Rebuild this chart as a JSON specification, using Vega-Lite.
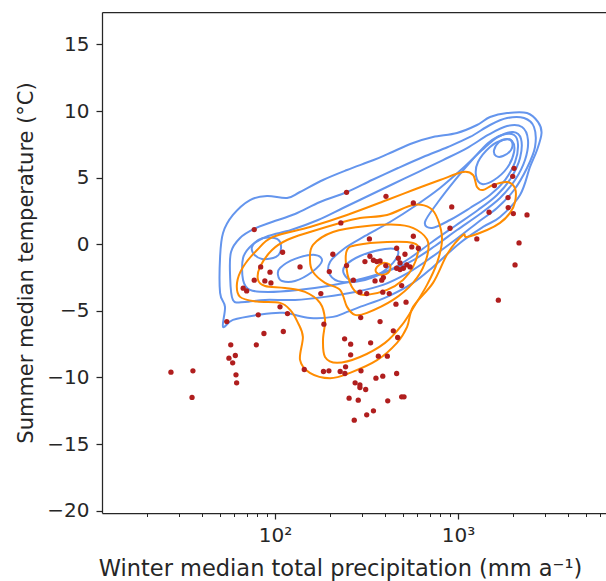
{
  "$schema": "https://vega.github.io/schema/vega-lite/v6.json",
  "width": 504,
  "height": 501,
  "autosize": {"type": "none"},
  "padding": {"left": 102, "top": 12, "right": 0, "bottom": 68},
  "config": {
    "view": {"stroke": null},
    "font": "DejaVu Sans",
    "axis": {
      "domainColor": "#262626", "domainWidth": 1.25, "tickColor": "#262626", "tickWidth": 1.25,
      "labelColor": "#262626", "labelFont": "DejaVu Sans", "labelFontSize": 20,
      "titleColor": "#262626", "titleFont": "DejaVu Sans", "titleFontSize": 21, "titleFontWeight": "normal",
      "grid": false
    }
  },
  "datasets": {
    "points": [
      {"p": 570, "t": 3.1}, {"p": 924, "t": 2.8}, {"p": 1478, "t": 2.4}, {"p": 229, "t": 1.6}, {"p": 904, "t": 1.2},
      {"p": 77, "t": 1.1}, {"p": 328, "t": 0.4}, {"p": 570, "t": 0.6}, {"p": 1267, "t": 0.4}, {"p": 462, "t": -0.3},
      {"p": 559, "t": -0.2}, {"p": 607, "t": -0.3}, {"p": 110, "t": -0.6}, {"p": 207, "t": -0.75}, {"p": 330, "t": -0.9},
      {"p": 513, "t": -0.75}, {"p": 472, "t": -1.05}, {"p": 345, "t": -1.2}, {"p": 375, "t": -1.25}, {"p": 310, "t": -1.3},
      {"p": 482, "t": -1.4}, {"p": 525, "t": -1.55}, {"p": 503, "t": -1.8}, {"p": 462, "t": -1.8}, {"p": 547, "t": -1.7},
      {"p": 482, "t": -1.9}, {"p": 403, "t": -1.6}, {"p": 360, "t": -1.3}, {"p": 246, "t": -1.6}, {"p": 137, "t": -1.7},
      {"p": 83.5, "t": -1.7}, {"p": 198, "t": -2.05}, {"p": 93.9, "t": -2.1}, {"p": 268, "t": -2.7}, {"p": 352, "t": -2.75},
      {"p": 383, "t": -2.7}, {"p": 391, "t": -2.5}, {"p": 77, "t": -2.7}, {"p": 88, "t": -2.75}, {"p": 95, "t": -2.9},
      {"p": 67, "t": -3.3}, {"p": 70, "t": -3.5}, {"p": 492, "t": -3.1}, {"p": 178, "t": -3.7}, {"p": 291, "t": -3.6},
      {"p": 317, "t": -3.7}, {"p": 388, "t": -3.6}, {"p": 421, "t": -3.7}, {"p": 1661, "t": -4.2}, {"p": 106.5, "t": -4.7},
      {"p": 458, "t": -4.5}, {"p": 520, "t": -4.35}, {"p": 117, "t": -5.2}, {"p": 81, "t": -5.3}, {"p": 294, "t": -5.5},
      {"p": 375, "t": -5.8}, {"p": 54.5, "t": -5.8}, {"p": 185, "t": -6.0}, {"p": 443, "t": -6.5}, {"p": 111, "t": -6.55},
      {"p": 87, "t": -6.7}, {"p": 468, "t": -7.0}, {"p": 240, "t": -7.1}, {"p": 259, "t": -7.5}, {"p": 333, "t": -7.4},
      {"p": 57.3, "t": -7.55}, {"p": 79, "t": -7.55}, {"p": 60.7, "t": -8.35}, {"p": 56, "t": -8.55}, {"p": 58.7, "t": -8.9},
      {"p": 259, "t": -8.3}, {"p": 367, "t": -8.4}, {"p": 411, "t": -8.4}, {"p": 243, "t": -9.2}, {"p": 144.5, "t": -9.4},
      {"p": 184, "t": -9.55}, {"p": 197, "t": -9.5}, {"p": 227, "t": -9.55}, {"p": 241, "t": -9.7}, {"p": 295, "t": -9.5},
      {"p": 462, "t": -9.7}, {"p": 61.2, "t": -9.8}, {"p": 61.7, "t": -10.4}, {"p": 356, "t": -10.05}, {"p": 388, "t": -9.9},
      {"p": 274, "t": -10.4}, {"p": 291, "t": -10.55}, {"p": 291, "t": -10.75}, {"p": 313, "t": -10.9}, {"p": 254, "t": -11.55},
      {"p": 285, "t": -11.7}, {"p": 413, "t": -11.75}, {"p": 492, "t": -11.45}, {"p": 507, "t": -11.45}, {"p": 345, "t": -12.5},
      {"p": 317, "t": -12.8}, {"p": 271, "t": -13.2}, {"p": 27, "t": -9.6}, {"p": 35.6, "t": -9.5}, {"p": 35.2, "t": -11.5},
      {"p": 246, "t": 3.9}, {"p": 404, "t": 3.6}, {"p": 1580, "t": 4.4}, {"p": 1876, "t": 3.5}, {"p": 1880, "t": 2.75},
      {"p": 2006, "t": 2.3}, {"p": 2382, "t": 2.2}, {"p": 1990, "t": 5.1}, {"p": 2024, "t": 5.7}, {"p": 2155, "t": 0.1},
      {"p": 2049, "t": -1.55}
    ],
    "contours": [
      {"c": "b1", "g": "blue", "i": 1, "p": 52.0, "t": -6.2},
      {"c": "b1", "g": "blue", "i": 2, "p": 58.9, "t": -5.68},
      {"c": "b1", "g": "blue", "i": 3, "p": 80.8, "t": -5.3},
      {"c": "b1", "g": "blue", "i": 4, "p": 110.6, "t": -5.15},
      {"c": "b1", "g": "blue", "i": 5, "p": 155.3, "t": -5.53},
      {"c": "b1", "g": "blue", "i": 6, "p": 207.4, "t": -5.45},
      {"c": "b1", "g": "blue", "i": 7, "p": 247.5, "t": -5.08},
      {"c": "b1", "g": "blue", "i": 8, "p": 291.4, "t": -4.7},
      {"c": "b1", "g": "blue", "i": 9, "p": 409.4, "t": -3.95},
      {"c": "b1", "g": "blue", "i": 10, "p": 567.8, "t": -2.9},
      {"c": "b1", "g": "blue", "i": 11, "p": 730.2, "t": -1.7},
      {"c": "b1", "g": "blue", "i": 12, "p": 1025, "t": 0.1},
      {"c": "b1", "g": "blue", "i": 13, "p": 1370, "t": 1.3},
      {"c": "b1", "g": "blue", "i": 14, "p": 1697, "t": 2.05},
      {"c": "b1", "g": "blue", "i": 15, "p": 2182, "t": 3.7},
      {"c": "b1", "g": "blue", "i": 16, "p": 2474, "t": 5.8},
      {"c": "b1", "g": "blue", "i": 17, "p": 2702, "t": 7.07},
      {"c": "b1", "g": "blue", "i": 18, "p": 2860, "t": 8.35},
      {"c": "b1", "g": "blue", "i": 19, "p": 2740, "t": 9.17},
      {"c": "b1", "g": "blue", "i": 20, "p": 2382, "t": 9.85},
      {"c": "b1", "g": "blue", "i": 21, "p": 1853, "t": 9.85},
      {"c": "b1", "g": "blue", "i": 22, "p": 1496, "t": 9.55},
      {"c": "b1", "g": "blue", "i": 23, "p": 1270, "t": 8.95},
      {"c": "b1", "g": "blue", "i": 24, "p": 987, "t": 8.35},
      {"c": "b1", "g": "blue", "i": 25, "p": 730, "t": 8.05},
      {"c": "b1", "g": "blue", "i": 26, "p": 568, "t": 7.6},
      {"c": "b1", "g": "blue", "i": 27, "p": 425, "t": 6.85},
      {"c": "b1", "g": "blue", "i": 28, "p": 343, "t": 6.3},
      {"c": "b1", "g": "blue", "i": 29, "p": 247.5, "t": 5.57},
      {"c": "b1", "g": "blue", "i": 30, "p": 182.9, "t": 4.82},
      {"c": "b1", "g": "blue", "i": 31, "p": 136.9, "t": 3.92},
      {"c": "b1", "g": "blue", "i": 32, "p": 116.3, "t": 3.47},
      {"c": "b1", "g": "blue", "i": 33, "p": 90.4, "t": 3.62},
      {"c": "b1", "g": "blue", "i": 34, "p": 73.0, "t": 3.32},
      {"c": "b1", "g": "blue", "i": 35, "p": 58.9, "t": 2.2},
      {"c": "b1", "g": "blue", "i": 36, "p": 52.0, "t": 0.85},
      {"c": "b1", "g": "blue", "i": 37, "p": 50.1, "t": -0.95},
      {"c": "b1", "g": "blue", "i": 38, "p": 50.1, "t": -3.65},
      {"c": "b1", "g": "blue", "i": 39, "p": 53.3, "t": -4.7},

      {"c": "b2", "g": "blue", "i": 1, "p": 58.9, "t": -4.18},
      {"c": "b2", "g": "blue", "i": 2, "p": 56.8, "t": -2.30},
      {"c": "b2", "g": "blue", "i": 3, "p": 57.5, "t": -0.58},
      {"c": "b2", "g": "blue", "i": 4, "p": 64.4, "t": 0.47},
      {"c": "b2", "g": "blue", "i": 5, "p": 76.8, "t": 1.15},
      {"c": "b2", "g": "blue", "i": 6, "p": 96.3, "t": 1.67},
      {"c": "b2", "g": "blue", "i": 7, "p": 128.6, "t": 2.27},
      {"c": "b2", "g": "blue", "i": 8, "p": 176.2, "t": 3.17},
      {"c": "b2", "g": "blue", "i": 9, "p": 247.5, "t": 3.92},
      {"c": "b2", "g": "blue", "i": 10, "p": 339.0, "t": 4.82},
      {"c": "b2", "g": "blue", "i": 11, "p": 470.1, "t": 5.72},
      {"c": "b2", "g": "blue", "i": 12, "p": 643.8, "t": 6.55},
      {"c": "b2", "g": "blue", "i": 13, "p": 880.9, "t": 7.30},
      {"c": "b2", "g": "blue", "i": 14, "p": 1163, "t": 8.05},
      {"c": "b2", "g": "blue", "i": 15, "p": 1496, "t": 8.95},
      {"c": "b2", "g": "blue", "i": 16, "p": 1853, "t": 9.47},
      {"c": "b2", "g": "blue", "i": 17, "p": 2295, "t": 9.47},
      {"c": "b2", "g": "blue", "i": 18, "p": 2601, "t": 8.80},
      {"c": "b2", "g": "blue", "i": 19, "p": 2635, "t": 7.30},
      {"c": "b2", "g": "blue", "i": 20, "p": 2382, "t": 5.72},
      {"c": "b2", "g": "blue", "i": 21, "p": 2024, "t": 4.07},
      {"c": "b2", "g": "blue", "i": 22, "p": 1634, "t": 2.72},
      {"c": "b2", "g": "blue", "i": 23, "p": 1270, "t": 1.60},
      {"c": "b2", "g": "blue", "i": 24, "p": 963, "t": 0.32},
      {"c": "b2", "g": "blue", "i": 25, "p": 721, "t": -0.95},
      {"c": "b2", "g": "blue", "i": 26, "p": 533, "t": -2.15},
      {"c": "b2", "g": "blue", "i": 27, "p": 389.2, "t": -3.05},
      {"c": "b2", "g": "blue", "i": 28, "p": 273.6, "t": -3.58},
      {"c": "b2", "g": "blue", "i": 29, "p": 187.6, "t": -3.95},
      {"c": "b2", "g": "blue", "i": 30, "p": 128.6, "t": -4.18},
      {"c": "b2", "g": "blue", "i": 31, "p": 88.2, "t": -4.18},
      {"c": "b2", "g": "blue", "i": 32, "p": 68.6, "t": -4.33},

      {"c": "b3", "g": "blue", "i": 1, "p": 66.9, "t": -2.68},
      {"c": "b3", "g": "blue", "i": 2, "p": 66.9, "t": -1.03},
      {"c": "b3", "g": "blue", "i": 3, "p": 74.9, "t": -0.05},
      {"c": "b3", "g": "blue", "i": 4, "p": 91.7, "t": 0.62},
      {"c": "b3", "g": "blue", "i": 5, "p": 122.3, "t": 1.07},
      {"c": "b3", "g": "blue", "i": 6, "p": 171.8, "t": 1.82},
      {"c": "b3", "g": "blue", "i": 7, "p": 235.3, "t": 2.72},
      {"c": "b3", "g": "blue", "i": 8, "p": 322.3, "t": 3.62},
      {"c": "b3", "g": "blue", "i": 9, "p": 441.4, "t": 4.52},
      {"c": "b3", "g": "blue", "i": 10, "p": 604.6, "t": 5.42},
      {"c": "b3", "g": "blue", "i": 11, "p": 827.9, "t": 6.32},
      {"c": "b3", "g": "blue", "i": 12, "p": 1120, "t": 7.22},
      {"c": "b3", "g": "blue", "i": 13, "p": 1460, "t": 8.20},
      {"c": "b3", "g": "blue", "i": 14, "p": 1853, "t": 8.87},
      {"c": "b3", "g": "blue", "i": 15, "p": 2238, "t": 8.80},
      {"c": "b3", "g": "blue", "i": 16, "p": 2412, "t": 7.82},
      {"c": "b3", "g": "blue", "i": 17, "p": 2323, "t": 6.32},
      {"c": "b3", "g": "blue", "i": 18, "p": 2049, "t": 4.82},
      {"c": "b3", "g": "blue", "i": 19, "p": 1697, "t": 3.47},
      {"c": "b3", "g": "blue", "i": 20, "p": 1319, "t": 2.27},
      {"c": "b3", "g": "blue", "i": 21, "p": 987.5, "t": 1.07},
      {"c": "b3", "g": "blue", "i": 22, "p": 748.8, "t": -0.13},
      {"c": "b3", "g": "blue", "i": 23, "p": 546.8, "t": -1.33},
      {"c": "b3", "g": "blue", "i": 24, "p": 399.2, "t": -2.08},
      {"c": "b3", "g": "blue", "i": 25, "p": 280.6, "t": -2.68},
      {"c": "b3", "g": "blue", "i": 26, "p": 194.9, "t": -3.13},
      {"c": "b3", "g": "blue", "i": 27, "p": 133.5, "t": -3.43},
      {"c": "b3", "g": "blue", "i": 28, "p": 91.7, "t": -3.58},
      {"c": "b3", "g": "blue", "i": 29, "p": 73.0, "t": -3.43},

      {"c": "b4", "g": "blue", "i": 1, "p": 199.8, "t": -1.33},
      {"c": "b4", "g": "blue", "i": 2, "p": 241.3, "t": -0.28},
      {"c": "b4", "g": "blue", "i": 3, "p": 310.3, "t": 0.62},
      {"c": "b4", "g": "blue", "i": 4, "p": 425.0, "t": 1.67},
      {"c": "b4", "g": "blue", "i": 5, "p": 582.4, "t": 2.87},
      {"c": "b4", "g": "blue", "i": 6, "p": 797.5, "t": 4.22},
      {"c": "b4", "g": "blue", "i": 7, "p": 1065, "t": 5.72},
      {"c": "b4", "g": "blue", "i": 8, "p": 1353, "t": 7.07},
      {"c": "b4", "g": "blue", "i": 9, "p": 1655, "t": 8.05},
      {"c": "b4", "g": "blue", "i": 10, "p": 1998, "t": 8.42},
      {"c": "b4", "g": "blue", "i": 11, "p": 2210, "t": 7.90},
      {"c": "b4", "g": "blue", "i": 12, "p": 2182, "t": 6.47},
      {"c": "b4", "g": "blue", "i": 13, "p": 1948, "t": 4.97},
      {"c": "b4", "g": "blue", "i": 14, "p": 1634, "t": 3.70},
      {"c": "b4", "g": "blue", "i": 15, "p": 1286, "t": 2.57},
      {"c": "b4", "g": "blue", "i": 16, "p": 963, "t": 1.37},
      {"c": "b4", "g": "blue", "i": 17, "p": 721, "t": 0.17},
      {"c": "b4", "g": "blue", "i": 18, "p": 546.8, "t": -1.03},
      {"c": "b4", "g": "blue", "i": 19, "p": 425.0, "t": -1.93},
      {"c": "b4", "g": "blue", "i": 20, "p": 310.3, "t": -2.68},
      {"c": "b4", "g": "blue", "i": 21, "p": 232.3, "t": -2.83},
      {"c": "b4", "g": "blue", "i": 22, "p": 199.8, "t": -2.30},

      {"c": "c1", "g": "blue", "i": 1, "p": 241.3, "t": -1.63},
      {"c": "c1", "g": "blue", "i": 2, "p": 291.4, "t": -0.88},
      {"c": "c1", "g": "blue", "i": 3, "p": 399.2, "t": -0.35},
      {"c": "c1", "g": "blue", "i": 4, "p": 470.1, "t": -0.50},
      {"c": "c1", "g": "blue", "i": 5, "p": 441.4, "t": -1.40},
      {"c": "c1", "g": "blue", "i": 6, "p": 351.9, "t": -2.38},
      {"c": "c1", "g": "blue", "i": 7, "p": 263.5, "t": -2.68},
      {"c": "c1", "g": "blue", "i": 8, "p": 238.3, "t": -2.23},

      {"c": "b5", "g": "blue", "i": 1, "p": 963, "t": 4.82},
      {"c": "b5", "g": "blue", "i": 2, "p": 1193, "t": 6.32},
      {"c": "b5", "g": "blue", "i": 3, "p": 1460, "t": 7.60},
      {"c": "b5", "g": "blue", "i": 4, "p": 1740, "t": 8.20},
      {"c": "b5", "g": "blue", "i": 5, "p": 2024, "t": 8.20},
      {"c": "b5", "g": "blue", "i": 6, "p": 2128, "t": 7.45},
      {"c": "b5", "g": "blue", "i": 7, "p": 2049, "t": 6.17},
      {"c": "b5", "g": "blue", "i": 8, "p": 1807, "t": 4.82},
      {"c": "b5", "g": "blue", "i": 9, "p": 1496, "t": 3.70},
      {"c": "b5", "g": "blue", "i": 10, "p": 1163, "t": 2.72},
      {"c": "b5", "g": "blue", "i": 11, "p": 904.2, "t": 1.82},
      {"c": "b5", "g": "blue", "i": 12, "p": 721, "t": 1.22},
      {"c": "b5", "g": "blue", "i": 13, "p": 660.2, "t": 1.67},
      {"c": "b5", "g": "blue", "i": 14, "p": 777.7, "t": 3.17},

      {"c": "b6", "g": "blue", "i": 1, "p": 1286, "t": 6.17},
      {"c": "b6", "g": "blue", "i": 2, "p": 1496, "t": 7.30},
      {"c": "b6", "g": "blue", "i": 3, "p": 1762, "t": 7.82},
      {"c": "b6", "g": "blue", "i": 4, "p": 1973, "t": 7.75},
      {"c": "b6", "g": "blue", "i": 5, "p": 2024, "t": 6.92},
      {"c": "b6", "g": "blue", "i": 6, "p": 1853, "t": 5.72},
      {"c": "b6", "g": "blue", "i": 7, "p": 1574, "t": 4.82},
      {"c": "b6", "g": "blue", "i": 8, "p": 1353, "t": 4.52},
      {"c": "b6", "g": "blue", "i": 9, "p": 1255, "t": 5.12},

      {"c": "b7", "g": "blue", "i": 1, "p": 1574, "t": 7.07},
      {"c": "b7", "g": "blue", "i": 2, "p": 1676, "t": 7.67},
      {"c": "b7", "g": "blue", "i": 3, "p": 1853, "t": 7.90},
      {"c": "b7", "g": "blue", "i": 4, "p": 1973, "t": 7.67},
      {"c": "b7", "g": "blue", "i": 5, "p": 1948, "t": 7.07},
      {"c": "b7", "g": "blue", "i": 6, "p": 1762, "t": 6.62},
      {"c": "b7", "g": "blue", "i": 7, "p": 1614, "t": 6.62},

      {"c": "l1", "g": "blue", "i": 1, "p": 75.8, "t": -0.05},
      {"c": "l1", "g": "blue", "i": 2, "p": 86.0, "t": 0.47},
      {"c": "l1", "g": "blue", "i": 3, "p": 102.6, "t": 0.40},
      {"c": "l1", "g": "blue", "i": 4, "p": 107.9, "t": -0.28},
      {"c": "l1", "g": "blue", "i": 5, "p": 101.3, "t": -0.95},
      {"c": "l1", "g": "blue", "i": 6, "p": 84.9, "t": -1.10},
      {"c": "l1", "g": "blue", "i": 7, "p": 75.8, "t": -0.65},

      {"c": "l2", "g": "blue", "i": 1, "p": 106.5, "t": -1.78},
      {"c": "l2", "g": "blue", "i": 2, "p": 128.6, "t": -1.10},
      {"c": "l2", "g": "blue", "i": 3, "p": 165.4, "t": -0.80},
      {"c": "l2", "g": "blue", "i": 4, "p": 180.6, "t": -1.25},
      {"c": "l2", "g": "blue", "i": 5, "p": 159.3, "t": -2.08},
      {"c": "l2", "g": "blue", "i": 6, "p": 128.6, "t": -2.76},
      {"c": "l2", "g": "blue", "i": 7, "p": 109.2, "t": -2.76},
      {"c": "l2", "g": "blue", "i": 8, "p": 103.8, "t": -2.30},

      {"c": "o1", "g": "orange", "i": 1, "p": 97.5, "t": 0.55},
      {"c": "o1", "g": "orange", "i": 2, "p": 155.3, "t": 1.3},
      {"c": "o1", "g": "orange", "i": 3, "p": 247.5, "t": 2.2},
      {"c": "o1", "g": "orange", "i": 4, "p": 409.4, "t": 3.32},
      {"c": "o1", "g": "orange", "i": 5, "p": 567.8, "t": 4.07},
      {"c": "o1", "g": "orange", "i": 6, "p": 797.5, "t": 4.82},
      {"c": "o1", "g": "orange", "i": 7, "p": 1065, "t": 5.42},
      {"c": "o1", "g": "orange", "i": 8, "p": 1208, "t": 5.2},
      {"c": "o1", "g": "orange", "i": 9, "p": 1270, "t": 4.3},
      {"c": "o1", "g": "orange", "i": 10, "p": 1370, "t": 4.07},
      {"c": "o1", "g": "orange", "i": 11, "p": 1554, "t": 4.45},
      {"c": "o1", "g": "orange", "i": 12, "p": 1853, "t": 4.67},
      {"c": "o1", "g": "orange", "i": 13, "p": 2049, "t": 4.2},
      {"c": "o1", "g": "orange", "i": 14, "p": 2049, "t": 3.17},
      {"c": "o1", "g": "orange", "i": 15, "p": 1924, "t": 2.35},
      {"c": "o1", "g": "orange", "i": 16, "p": 1697, "t": 1.6},
      {"c": "o1", "g": "orange", "i": 17, "p": 1441, "t": 1.07},
      {"c": "o1", "g": "orange", "i": 18, "p": 1120, "t": 0.55},
      {"c": "o1", "g": "orange", "i": 19, "p": 1065, "t": 0.7},
      {"c": "o1", "g": "orange", "i": 20, "p": 881, "t": -0.65},
      {"c": "o1", "g": "orange", "i": 21, "p": 730, "t": -2.9},
      {"c": "o1", "g": "orange", "i": 22, "p": 568, "t": -4.7},
      {"c": "o1", "g": "orange", "i": 23, "p": 527, "t": -6.2},
      {"c": "o1", "g": "orange", "i": 24, "p": 464, "t": -7.4},
      {"c": "o1", "g": "orange", "i": 25, "p": 361, "t": -8.7},
      {"c": "o1", "g": "orange", "i": 26, "p": 257, "t": -9.65},
      {"c": "o1", "g": "orange", "i": 27, "p": 200, "t": -10.05},
      {"c": "o1", "g": "orange", "i": 28, "p": 155, "t": -9.65},
      {"c": "o1", "g": "orange", "i": 29, "p": 137, "t": -8.68},
      {"c": "o1", "g": "orange", "i": 30, "p": 142, "t": -6.95},
      {"c": "o1", "g": "orange", "i": 31, "p": 133.5, "t": -5.9},
      {"c": "o1", "g": "orange", "i": 32, "p": 121, "t": -4.93},
      {"c": "o1", "g": "orange", "i": 33, "p": 106.5, "t": -4.4},
      {"c": "o1", "g": "orange", "i": 34, "p": 79.8, "t": -4.3},
      {"c": "o1", "g": "orange", "i": 35, "p": 64.4, "t": -3.95},
      {"c": "o1", "g": "orange", "i": 36, "p": 62.0, "t": -2.9},
      {"c": "o1", "g": "orange", "i": 37, "p": 66.9, "t": -1.7},
      {"c": "o1", "g": "orange", "i": 38, "p": 79.8, "t": -0.43},

      {"c": "o2", "g": "orange", "i": 1, "p": 80.8, "t": -2.68},
      {"c": "o2", "g": "orange", "i": 2, "p": 82.8, "t": -1.70},
      {"c": "o2", "g": "orange", "i": 3, "p": 96.3, "t": -0.43},
      {"c": "o2", "g": "orange", "i": 4, "p": 116.3, "t": 0.32},
      {"c": "o2", "g": "orange", "i": 5, "p": 155.3, "t": 0.92},
      {"c": "o2", "g": "orange", "i": 6, "p": 226.6, "t": 1.60},
      {"c": "o2", "g": "orange", "i": 7, "p": 291.4, "t": 1.97},
      {"c": "o2", "g": "orange", "i": 8, "p": 409.4, "t": 2.20},
      {"c": "o2", "g": "orange", "i": 9, "p": 567.8, "t": 2.95},
      {"c": "o2", "g": "orange", "i": 10, "p": 703.1, "t": 2.72},
      {"c": "o2", "g": "orange", "i": 11, "p": 777.7, "t": 1.82},
      {"c": "o2", "g": "orange", "i": 12, "p": 817.8, "t": 0.32},
      {"c": "o2", "g": "orange", "i": 13, "p": 768.0, "t": -1.40},
      {"c": "o2", "g": "orange", "i": 14, "p": 677.1, "t": -3.05},
      {"c": "o2", "g": "orange", "i": 15, "p": 582.4, "t": -4.55},
      {"c": "o2", "g": "orange", "i": 16, "p": 494.4, "t": -6.05},
      {"c": "o2", "g": "orange", "i": 17, "p": 399.2, "t": -7.40},
      {"c": "o2", "g": "orange", "i": 18, "p": 291.4, "t": -8.46},
      {"c": "o2", "g": "orange", "i": 19, "p": 218.2, "t": -8.90},
      {"c": "o2", "g": "orange", "i": 20, "p": 187.6, "t": -8.46},
      {"c": "o2", "g": "orange", "i": 21, "p": 182.9, "t": -7.18},
      {"c": "o2", "g": "orange", "i": 22, "p": 187.6, "t": -5.68},
      {"c": "o2", "g": "orange", "i": 23, "p": 176.2, "t": -4.40},
      {"c": "o2", "g": "orange", "i": 24, "p": 145.8, "t": -3.58},
      {"c": "o2", "g": "orange", "i": 25, "p": 113.4, "t": -3.28},
      {"c": "o2", "g": "orange", "i": 26, "p": 88.2, "t": -3.13},

      {"c": "o3", "g": "orange", "i": 1, "p": 155.3, "t": -1.18},
      {"c": "o3", "g": "orange", "i": 2, "p": 161.3, "t": -0.05},
      {"c": "o3", "g": "orange", "i": 3, "p": 207.4, "t": 0.92},
      {"c": "o3", "g": "orange", "i": 4, "p": 318.3, "t": 1.37},
      {"c": "o3", "g": "orange", "i": 5, "p": 482.1, "t": 1.45},
      {"c": "o3", "g": "orange", "i": 6, "p": 597.0, "t": 1.07},
      {"c": "o3", "g": "orange", "i": 7, "p": 685.7, "t": 0.17},
      {"c": "o3", "g": "orange", "i": 8, "p": 660.2, "t": -1.40},
      {"c": "o3", "g": "orange", "i": 9, "p": 567.8, "t": -2.90},
      {"c": "o3", "g": "orange", "i": 10, "p": 441.4, "t": -4.18},
      {"c": "o3", "g": "orange", "i": 11, "p": 318.3, "t": -5.15},
      {"c": "o3", "g": "orange", "i": 12, "p": 273.6, "t": -5.30},
      {"c": "o3", "g": "orange", "i": 13, "p": 247.5, "t": -4.70},
      {"c": "o3", "g": "orange", "i": 14, "p": 226.6, "t": -3.43},
      {"c": "o3", "g": "orange", "i": 15, "p": 187.6, "t": -2.90},
      {"c": "o3", "g": "orange", "i": 16, "p": 161.3, "t": -2.08},

      {"c": "o4", "g": "orange", "i": 1, "p": 247.5, "t": -0.43},
      {"c": "o4", "g": "orange", "i": 2, "p": 280.6, "t": -0.05},
      {"c": "o4", "g": "orange", "i": 3, "p": 409.4, "t": 0.17},
      {"c": "o4", "g": "orange", "i": 4, "p": 567.8, "t": 0.10},
      {"c": "o4", "g": "orange", "i": 5, "p": 604.6, "t": -0.43},
      {"c": "o4", "g": "orange", "i": 6, "p": 567.8, "t": -1.70},
      {"c": "o4", "g": "orange", "i": 7, "p": 500.6, "t": -2.68},
      {"c": "o4", "g": "orange", "i": 8, "p": 409.4, "t": -3.43},
      {"c": "o4", "g": "orange", "i": 9, "p": 318.3, "t": -3.80},
      {"c": "o4", "g": "orange", "i": 10, "p": 280.6, "t": -3.65},
      {"c": "o4", "g": "orange", "i": 11, "p": 256.9, "t": -2.90},
      {"c": "o4", "g": "orange", "i": 12, "p": 244.4, "t": -1.55},

      {"c": "o5", "g": "orange", "i": 1, "p": 360.9, "t": -1.70},
      {"c": "o5", "g": "orange", "i": 2, "p": 389.2, "t": -1.40},
      {"c": "o5", "g": "orange", "i": 3, "p": 425.0, "t": -1.55},
      {"c": "o5", "g": "orange", "i": 4, "p": 419.7, "t": -2.08},
      {"c": "o5", "g": "orange", "i": 5, "p": 384.3, "t": -2.30},
      {"c": "o5", "g": "orange", "i": 6, "p": 356.4, "t": -2.08}
    ]
  },
  "resolve": {"axis": {"x": "independent"}},
  "layer": [
    {
      "data": {"name": "contours"},
      "mark": {"type": "line", "strokeWidth": 2, "interpolate": "cardinal-closed"},
      "encoding": {
        "x": {"field": "p", "type": "quantitative", "scale": {"type": "log", "domain": [11.34, 6436], "nice": false},
              "axis": {"title": "Winter median total precipitation (mm a⁻¹)", "orient": "bottom",
                       "values": [20, 30, 40, 50, 60, 70, 80, 90, 100, 200, 300, 400, 500, 600, 700, 800, 900, 1000, 2000, 3000, 4000, 5000, 6000],
                       "labelExpr": "datum.value == 100 ? '10²' : datum.value == 1000 ? '10³' : ''",
                       "tickSize": {"condition": {"test": "datum.value == 100 || datum.value == 1000", "value": 6}, "value": 3.5},
                       "tickWidth": {"condition": {"test": "datum.value == 100 || datum.value == 1000", "value": 1.25}, "value": 1},
                       "labelPadding": 6, "titlePadding": 12, "titleFontSize": 22.5, "titleX": 238, "titleAlign": "center", "titleAnchor": null,
                       "labelFlush": false, "labelOverlap": false}},
        "y": {"field": "t", "type": "quantitative", "scale": {"domain": [-20.17, 17.43], "nice": false, "zero": false},
              "axis": {"title": "Summer median temperature (°C)", "values": [-20, -15, -10, -5, 0, 5, 10, 15],
                       "tickSize": 6, "labelPadding": 7, "titlePadding": 10}},
        "detail": {"field": "c"},
        "order": {"field": "i", "type": "quantitative"},
        "color": {"field": "g", "type": "nominal", "scale": {"domain": ["blue", "orange"], "range": ["#6495ed", "#ff8c00"]}, "legend": null}
      }
    },
    {
      "data": {"name": "points"},
      "mark": {"type": "circle", "size": 28, "opacity": 1, "color": "#b01e1e"},
      "encoding": {
        "x": {"field": "p", "type": "quantitative", "scale": {"type": "log", "domain": [11.34, 6436], "nice": false},
              "axis": {"orient": "top", "title": null, "labels": false, "ticks": false}},
        "y": {"field": "t", "type": "quantitative", "scale": {"domain": [-20.17, 17.43], "nice": false, "zero": false}}
      }
    }
  ]
}
